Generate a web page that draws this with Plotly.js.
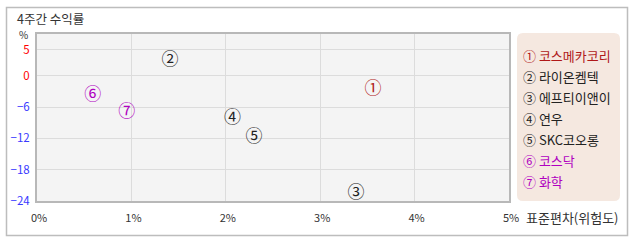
<!DOCTYPE html>
<html><head><meta charset="utf-8">
<script src="https://cdn.plot.ly/plotly-3.0.1.min.js"></script>
<style>html,body{margin:0;padding:0;background:#fff;}#chart{width:638px;height:242px;}</style>
</head><body><div id="chart"></div>
<script>
const labels = ['①','②','③','④','⑤','⑥','⑦'];
const names = ['코스메카코리','라이온켐텍','에프티이앤이','연우','SKC코오롱','코스닥','화학'];
const stdDev = [3.56, 1.41, 3.38, 2.07, 2.30, 0.59, 0.95];
const returns4w = [-2.6, 2.9, -22.6, -8.2, -11.8, -3.8, -7.0];
const colors = ['#b01818','#222222','#222222','#222222','#222222','#b000c0','#b000c0'];
const yTicks = [5, 0, -6, -12, -18, -24];
const xTicks = [0, 1, 2, 3, 4, 5];
const xTickText = ['0%','1%','2%','3%','4%','5%'];

const FONT = '"Noto Sans CJK KR", "Noto Sans", sans-serif';
const W = 638, H = 242, L = 37, T = 34, R = 509, B = 201;
const pw = R - L, ph = B - T;
const px = x => (x - L) / pw;
const py = y => (B - y) / ph;

const trace = {
  x: stdDev, y: returns4w, mode: 'text', type: 'scatter',
  text: labels, textposition: 'middle center',
  textfont: {family: FONT, size: 17, color: colors},
  hoverinfo: 'none', showlegend: false, cliponaxis: false
};

const annotations = [
  {xref:'paper', yref:'paper', x: px(16), y: py(18.5), xanchor:'left', yanchor:'middle', borderpad:0, text:'4주간 수익률', showarrow:false, font:{family:FONT, size:12.5, color:'#333'}},
  {xref:'paper', yref:'paper', x: px(23), y: py(34), xanchor:'center', yanchor:'middle', borderpad:0, text:'%', showarrow:false, font:{family:FONT, size:10, color:'#333'}},
  {xref:'paper', yref:'paper', x: px(621), y: py(217), xanchor:'right', yanchor:'middle', text:'표준편차(위험도)', showarrow:false, font:{family:FONT, size:13, color:'#333'}}
];
names.forEach((n, i) => {
  annotations.push({xref:'paper', yref:'paper', x: px(521), y: py(55 + i * 21), xanchor:'left', yanchor:'middle',
    text: labels[i] + ' ' + n, showarrow:false, font:{family:FONT, size:13, color: colors[i]}});
});

const rx = 6 / pw, ry = 6 / ph;
const lx0 = px(517), lx1 = px(620), ly0 = py(201), ly1 = py(33);
const legendPath = `M ${lx0+rx} ${ly1} L ${lx1-rx} ${ly1} Q ${lx1} ${ly1} ${lx1} ${ly1-ry} L ${lx1} ${ly0+ry} Q ${lx1} ${ly0} ${lx1-rx} ${ly0} L ${lx0+rx} ${ly0} Q ${lx0} ${ly0} ${lx0} ${ly0+ry} L ${lx0} ${ly1-ry} Q ${lx0} ${ly1} ${lx0+rx} ${ly1} Z`;

const layout = {
  width: W, height: H,
  margin: {l: L, r: W - R, t: T, b: H - B, pad: 0},
  paper_bgcolor: '#ffffff', plot_bgcolor: '#f4f4f4',
  font: {family: FONT, size: 11, color: '#333'},
  xaxis: {range: [0, 5], tickvals: xTicks, ticktext: xTickText, showgrid: true, gridcolor: '#dcdcdc', gridwidth: 1,
    zeroline: false, showline: true, mirror: true, linecolor: '#b8b8b8', linewidth: 2,
    ticks: 'outside', ticklen: 6, tickcolor: 'rgba(0,0,0,0)', ticklabelshift: 2, tickfont: {family: FONT, size: 11, color: '#333'}, fixedrange: true},
  yaxis: {range: [-24, 8], tickvals: yTicks, showgrid: true, gridcolor: '#dcdcdc', gridwidth: 1,
    zeroline: false, showline: true, mirror: true, linecolor: '#b8b8b8', linewidth: 2,
    ticks: 'outside', ticklen: 3, tickcolor: 'rgba(0,0,0,0)', tickfont: {family: FONT, size: 11.5, color: '#3a3aff'}, fixedrange: true},
  shapes: [
    {type:'rect', xref:'paper', yref:'paper', x0: px(6.5), x1: px(627.5), y0: py(235.5), y1: py(7.5), line:{color:'#bdbdbd', width:1.5}, fillcolor:'rgba(0,0,0,0)', layer:'below'},
    {type:'path', xref:'paper', yref:'paper', path: legendPath, fillcolor:'#f5e8e0', line:{width:0}}
  ],
  annotations: annotations,
  showlegend: false
};

Plotly.newPlot('chart', [trace], layout, {displayModeBar: false, staticPlot: true}).then(() => {
  document.querySelectorAll('.ytick text').forEach(t => {
    const v = parseFloat(t.textContent.replace('\u2212','-'));
    if (v >= 0) t.style.fill = '#ff0000';
  });
});
</script></body></html>
